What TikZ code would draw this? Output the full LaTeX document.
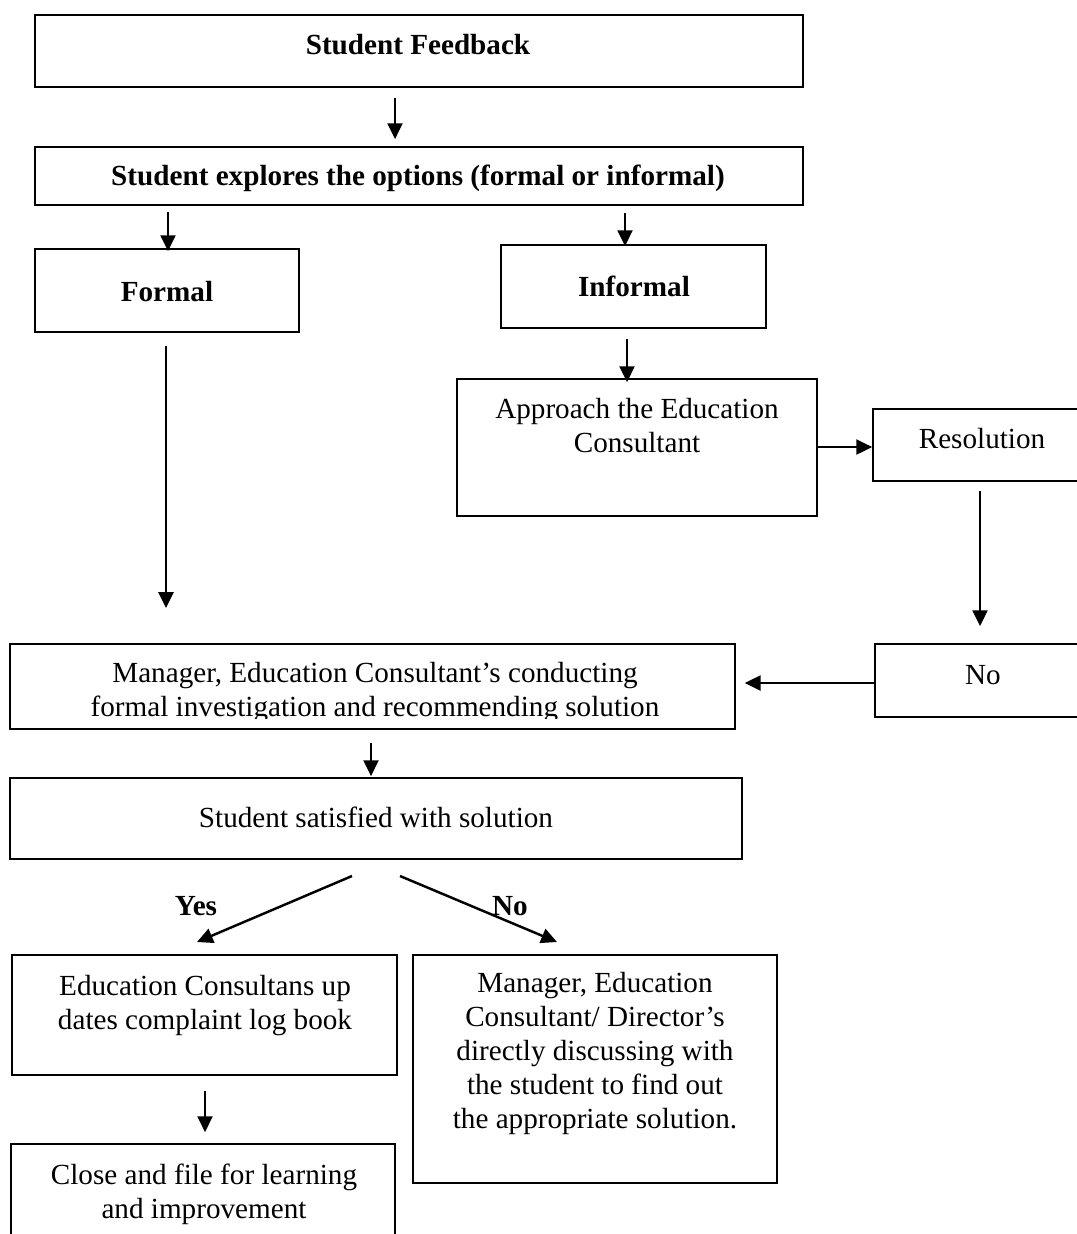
\documentclass[tikz,border=0pt]{standalone}
\usepackage{fontspec}
\setmainfont{Liberation Serif}
\usetikzlibrary{arrows.meta}
\newdimen\pxu \pxu=0.02cm
\tikzset{
  box/.style={draw, line width=1pt, rectangle, inner sep=0pt},
  txt/.style={inner sep=0pt, align=center, font=\fontsize{16.6}{19.4}\selectfont},
  btxt/.style={txt, font=\fontsize{16.6}{19.4}\selectfont\bfseries},
  arr/.style={line width=1.4pt, -{Triangle[length=9pt,width=8.5pt]}},
}
\begin{document}
\begin{tikzpicture}[x=0.02cm, y=-0.02cm]
\clip (0,0) rectangle (1077,1234);
\fill[white] (0,0) rectangle (1077,1234);
% boxes
\node[box, minimum width=15.36cm, minimum height=1.44cm] (fb) at (419,51) {};
\node[box, minimum width=15.36cm, minimum height=1.16cm] (opt) at (419,176) {};
\node[box, minimum width=5.28cm, minimum height=1.66cm] (formal) at (167,290.5) {};
\node[box, minimum width=5.30cm, minimum height=1.66cm] (informal) at (633.5,286.5) {};
\node[box, minimum width=7.20cm, minimum height=2.74cm] (appr) at (637,447.5) {};
\node[box, minimum width=4.34cm, minimum height=1.44cm] (res) at (981.5,445) {};
\node[box, minimum width=14.50cm, minimum height=1.70cm] (mgr) at (372.5,686.5) {};
\node[box, minimum width=4.30cm, minimum height=1.46cm] (no) at (982.5,680.5) {};
\node[box, minimum width=14.64cm, minimum height=1.62cm] (sat) at (376,818.5) {};
\node[box, minimum width=7.70cm, minimum height=2.40cm] (edu) at (204.5,1015) {};
\node[box, minimum width=7.28cm, minimum height=4.56cm] (md) at (595,1069) {};
\node[box, minimum width=7.68cm, minimum height=2.12cm] (close) at (203,1197) {};
% texts
\node[btxt, anchor=base] at (418,54) {Student Feedback};
\node[btxt, anchor=base] at (418,185) {Student explores the options (formal or informal)};
\node[btxt, anchor=base] at (167,301) {Formal};
\node[btxt, anchor=base] at (634,296) {Informal};
\node[txt, anchor=north] at (637,398) {Approach the Education\\Consultant};
\node[txt, anchor=base] at (982,448) {Resolution};
\node[txt, anchor=base] at (983,684) {No};
\begin{scope}
\clip (10,644) rectangle (735,718);
\node[txt, anchor=north] at (375,662) {Manager, Education Consultant’s conducting\\formal investigation and recommending solution};
\end{scope}
\node[txt, anchor=base] at (376,827) {Student satisfied with solution};
\node[btxt, anchor=base] at (196,915) {Yes};
\node[btxt, anchor=base] at (510,915) {No};
\node[txt, anchor=north] at (205,975) {Education Consultans up\\dates complaint log book};
\node[txt, anchor=north] at (595,972) {Manager, Education\\Consultant/ Director’s\\directly discussing with\\the student to find out\\the appropriate solution.};
\node[txt, anchor=north] at (204,1164) {Close and file for learning\\and improvement};
% connector columns / rows
\coordinate (c395) at (395,0); \coordinate (c168) at (168,0);
\coordinate (c625) at (625,0); \coordinate (c627) at (627,0);
\coordinate (c980) at (980,0); \coordinate (c371) at (371,0);
\coordinate (c205) at (205,0);
\coordinate (r447) at (0,447); \coordinate (r683) at (0,683);
\coordinate (formalEnd) at (166,608);
\coordinate (ys) at (352,876); \coordinate (ye) at (197,942);
\coordinate (ns) at (400,876); \coordinate (ne) at (557,942);
% connectors
\draw[arr, shorten <=10\pxu, shorten >=7\pxu] (fb.south -| c395) -- (opt.north -| c395);
\draw[arr, shorten <=6\pxu, shorten >=-3\pxu] (opt.south -| c168) -- (formal.north -| c168);
\draw[arr, shorten <=7\pxu, shorten >=-2\pxu] (opt.south -| c625) -- (informal.north -| c625);
\draw[arr, shorten <=13\pxu] (formal.south -| formalEnd) -- (formalEnd);
\draw[arr, shorten <=10\pxu, shorten >=-4\pxu] (informal.south -| c627) -- (appr.north -| c627);
\draw[arr] (appr.east |- r447) -- (res.west |- r447);
\draw[arr, shorten <=9\pxu, shorten >=17\pxu] (res.south -| c980) -- (no.north -| c980);
\draw[arr, shorten >=9\pxu] (no.west |- r683) -- (mgr.east |- r683);
\draw[arr, shorten <=13\pxu, shorten >=1\pxu] (mgr.south -| c371) -- (sat.north -| c371);
\draw[arr] (ys) -- (ye);
\draw[arr] (ns) -- (ne);
\draw[arr, shorten <=15\pxu, shorten >=11\pxu] (edu.south -| c205) -- (close.north -| c205);
\end{tikzpicture}
\end{document}
